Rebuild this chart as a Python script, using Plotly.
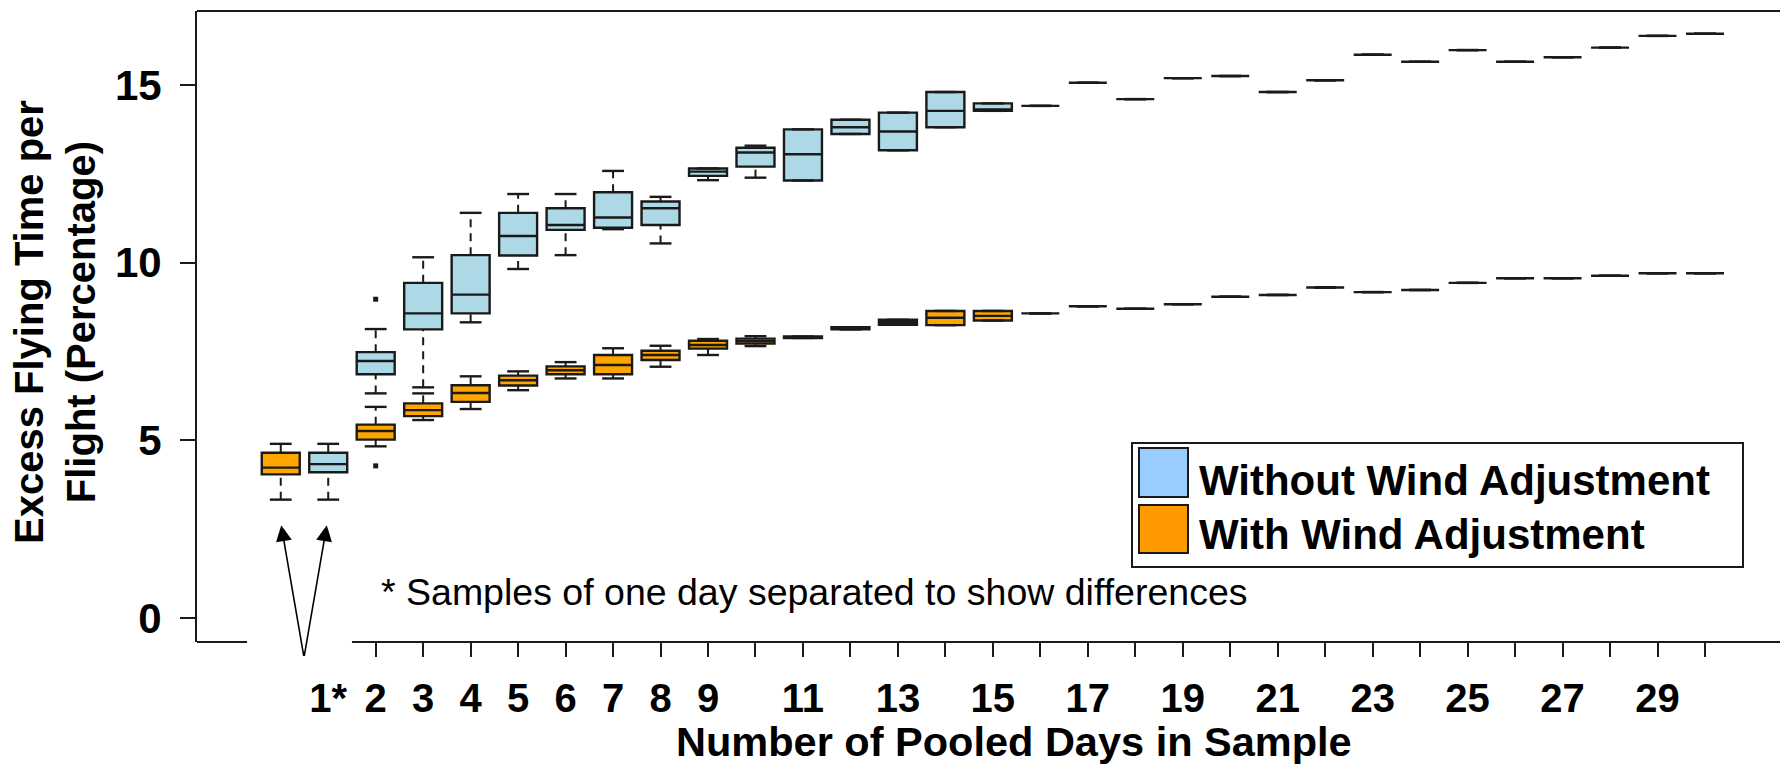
import plotly.graph_objects as go

# ---------------- data ----------------
days = list(range(1, 31))
x_tick_days = list(range(2, 31))
x_label_days = [1, 2, 3, 4, 5, 6, 7, 8, 9, 11, 13, 15, 17, 19, 21, 23, 25, 27, 29]
x_label_text = ["1*", "2", "3", "4", "5", "6", "7", "8", "9", "11", "13", "15",
                "17", "19", "21", "23", "25", "27", "29"]
y_tick_vals = [0, 5, 10, 15]

series_names = ["Without Wind Adjustment", "With Wind Adjustment"]

# Without wind adjustment (light blue)
blue_hi = [4.90, 8.13, 10.15, 11.40, 11.93, 11.93, 12.58, 11.85, 12.65, 13.29,
           13.75, 14.02, 14.22, 14.80, 14.48, 14.41, 15.06, 14.60, 15.19, 15.25,
           14.80, 15.13, 15.85, 15.65, 15.98, 15.65, 15.78, 16.05, 16.38, 16.44]
blue_q3 = [4.65, 7.48, 9.43, 10.21, 11.40, 11.53, 11.98, 11.72, 12.65, 13.23,
           13.75, 14.02, 14.22, 14.80, 14.48, 14.41, 15.06, 14.60, 15.19, 15.25,
           14.80, 15.13, 15.85, 15.65, 15.98, 15.65, 15.78, 16.05, 16.38, 16.44]
blue_med = [4.33, 7.23, 8.57, 9.10, 10.75, 11.06, 11.27, 11.53, 12.56, 13.10,
            13.05, 13.81, 13.69, 14.27, 14.31, 14.41, 15.06, 14.60, 15.19, 15.25,
            14.80, 15.13, 15.85, 15.65, 15.98, 15.65, 15.78, 16.05, 16.38, 16.44]
blue_q1 = [4.10, 6.86, 8.12, 8.57, 10.20, 10.92, 10.98, 11.06, 12.44, 12.70,
           12.31, 13.62, 13.16, 13.81, 14.27, 14.41, 15.06, 14.60, 15.19, 15.25,
           14.80, 15.13, 15.85, 15.65, 15.98, 15.65, 15.78, 16.05, 16.38, 16.44]
blue_lo = [3.33, 6.32, 6.49, 8.32, 9.82, 10.21, 10.94, 10.54, 12.32, 12.39,
           12.31, 13.62, 13.16, 13.81, 14.27, 14.41, 15.06, 14.60, 15.19, 15.25,
           14.80, 15.13, 15.85, 15.65, 15.98, 15.65, 15.78, 16.05, 16.38, 16.44]
blue_out_day = [2]
blue_out_val = [8.97]

# With wind adjustment (orange)
orange_hi = [4.90, 5.94, 6.32, 6.80, 6.94, 7.20, 7.59, 7.66, 7.85, 7.93,
             7.92, 8.18, 8.39, 8.64, 8.64, 8.57, 8.77, 8.70, 8.83, 9.04,
             9.09, 9.30, 9.17, 9.23, 9.43, 9.56, 9.56, 9.63, 9.70, 9.70]
orange_q3 = [4.65, 5.44, 6.04, 6.55, 6.82, 7.08, 7.40, 7.52, 7.80, 7.86,
             7.92, 8.18, 8.39, 8.64, 8.64, 8.57, 8.77, 8.70, 8.83, 9.04,
             9.09, 9.30, 9.17, 9.23, 9.43, 9.56, 9.56, 9.63, 9.70, 9.70]
orange_med = [4.23, 5.26, 5.85, 6.33, 6.69, 6.97, 7.12, 7.40, 7.68, 7.79,
              7.90, 8.15, 8.32, 8.45, 8.50, 8.57, 8.77, 8.70, 8.83, 9.04,
              9.09, 9.30, 9.17, 9.23, 9.43, 9.56, 9.56, 9.63, 9.70, 9.70]
orange_q1 = [4.04, 5.02, 5.68, 6.08, 6.54, 6.86, 6.86, 7.26, 7.58, 7.72,
             7.88, 8.12, 8.25, 8.24, 8.37, 8.57, 8.77, 8.70, 8.83, 9.04,
             9.09, 9.30, 9.17, 9.23, 9.43, 9.56, 9.56, 9.63, 9.70, 9.70]
orange_lo = [3.33, 4.83, 5.57, 5.88, 6.41, 6.74, 6.74, 7.07, 7.40, 7.65,
             7.88, 8.12, 8.25, 8.24, 8.37, 8.57, 8.77, 8.70, 8.83, 9.04,
             9.09, 9.30, 9.17, 9.23, 9.43, 9.56, 9.56, 9.63, 9.70, 9.70]
orange_out_day = [2]
orange_out_val = [4.28]

# ---------------- styling ----------------
FONT = "Liberation Sans, Arial, sans-serif"
INK = "#1a1a1a"
BLUE_FILL = "#ADD8E6"
ORANGE_FILL = "#FFA500"
BLUE_KEY = "#99CCFF"
ORANGE_KEY = "#FF9900"
BOX_W = 0.8
CAP_HALF = 0.23
LW = 2.4

W, H = 1780, 767
PL, PR, PT, PB = 197, 1780, 11, 642
X_RANGE = [-1.764, 31.58]
Y_RANGE = [-0.676, 17.08]


def px_x(px):
    return (px - PL) / (PR - PL)


def px_y(py):
    return (PB - py) / (PB - PT)


# the one-day samples are drawn side by side: the "with wind" box is moved one slot left
blue_pos = list(days)
orange_pos = [d - 1 if d == 1 else d for d in days]


def whisker_xy(pos, lo, q1, q3, hi):
    xs, ys = [], []
    for p, a, b, c, d in zip(pos, lo, q1, q3, hi):
        if d > c:
            xs += [p, p, None]
            ys += [c, d, None]
        if a < b:
            xs += [p, p, None]
            ys += [a, b, None]
    return xs, ys


def cap_xy(pos, lo, hi):
    xs, ys = [], []
    for p, a, d in zip(pos, lo, hi):
        xs += [p - CAP_HALF, p + CAP_HALF, None, p - CAP_HALF, p + CAP_HALF, None]
        ys += [d, d, None, a, a, None]
    return xs, ys


fig = go.Figure()

for name, pos, lo, q1, med, q3, hi, fill, od, ov in [
    (series_names[0], blue_pos, blue_lo, blue_q1, blue_med, blue_q3, blue_hi,
     BLUE_FILL, blue_out_day, blue_out_val),
    (series_names[1], orange_pos, orange_lo, orange_q1, orange_med, orange_q3, orange_hi,
     ORANGE_FILL, orange_out_day, orange_out_val),
]:
    fig.add_trace(go.Box(
        name=name, x=pos, q1=q1, median=med, q3=q3,
        lowerfence=q1, upperfence=q3,
        width=BOX_W, whiskerwidth=0, boxpoints=False,
        fillcolor=fill, line=dict(color=INK, width=LW),
        showlegend=False, hoverinfo="skip",
    ))
    wx, wy = whisker_xy(pos, lo, q1, q3, hi)
    fig.add_trace(go.Scatter(
        x=wx, y=wy, mode="lines",
        line=dict(color=INK, width=2, dash="8px,6px"),
        showlegend=False, hoverinfo="skip",
    ))
    cx, cy = cap_xy(pos, lo, hi)
    fig.add_trace(go.Scatter(
        x=cx, y=cy, mode="lines",
        line=dict(color=INK, width=LW),
        showlegend=False, hoverinfo="skip",
    ))
    fig.add_trace(go.Scatter(
        x=od, y=ov, mode="markers",
        marker=dict(color=INK, size=5, symbol="square"),
        showlegend=False, hoverinfo="skip",
    ))

# carrier for the label axis
fig.add_trace(go.Scatter(x=[], y=[], xaxis="x2", showlegend=False, hoverinfo="skip"))

shapes = [
    # top frame
    dict(type="line", xref="paper", yref="paper", x0=0, x1=1, y0=1, y1=1,
         line=dict(color=INK, width=2)),
    # bottom frame, with a gap where the arrows pass
    dict(type="line", xref="x", yref="paper", x0=X_RANGE[0], x1=-0.71, y0=0, y1=0,
         line=dict(color=INK, width=2)),
    dict(type="line", xref="x", yref="paper", x0=1.5, x1=X_RANGE[1], y0=0, y1=0,
         line=dict(color=INK, width=2)),
    # legend frame
    dict(type="rect", xref="paper", yref="paper",
         x0=px_x(1132), x1=px_x(1743), y0=px_y(567), y1=px_y(443),
         line=dict(color=INK, width=2), fillcolor="white", layer="above"),
    dict(type="rect", xref="paper", yref="paper",
         x0=px_x(1139), x1=px_x(1188), y0=px_y(497), y1=px_y(448),
         line=dict(color=INK, width=2), fillcolor=BLUE_KEY, layer="above"),
    dict(type="rect", xref="paper", yref="paper",
         x0=px_x(1139), x1=px_x(1188), y0=px_y(553), y1=px_y(505),
         line=dict(color=INK, width=2), fillcolor=ORANGE_KEY, layer="above"),
]

annotations = [
    dict(text=series_names[0], xref="paper", yref="paper", x=px_x(1197), y=px_y(480),
         xanchor="left", yanchor="middle", showarrow=False,
         font=dict(family=FONT, size=42, color="black", weight="bold")),
    dict(text=series_names[1], xref="paper", yref="paper", x=px_x(1197), y=px_y(534),
         xanchor="left", yanchor="middle", showarrow=False,
         font=dict(family=FONT, size=42, color="black", weight="bold")),
    dict(text="* Samples of one day separated to show differences",
         xref="paper", yref="paper", x=px_x(379), y=px_y(592),
         xanchor="left", yanchor="middle", showarrow=False,
         font=dict(family=FONT, size=37.5, color="black")),
    dict(text="Excess Flying Time per<br>Flight (Percentage)",
         xref="paper", yref="paper", x=px_x(55), y=px_y(322),
         xanchor="center", yanchor="middle", textangle=-90, showarrow=False,
         font=dict(family=FONT, size=40, color="black", weight="bold")),
    dict(text="Number of Pooled Days in Sample",
         xref="paper", yref="paper", x=px_x(1014), y=px_y(741),
         xanchor="center", yanchor="middle", showarrow=False,
         font=dict(family=FONT, size=41.5, color="black", weight="bold")),
]
# arrows pointing at the two one-day samples
for head_x in [orange_pos[0] + 0.01, blue_pos[0] - 0.03]:
    annotations.append(dict(
        text="", x=head_x, y=2.61, xref="x", yref="y",
        ax=0.49, ay=-1.11, axref="x", ayref="y",
        showarrow=True, arrowhead=2, arrowsize=2.0, arrowwidth=1.6,
        arrowcolor="black",
    ))

fig.update_layout(
    width=W, height=H,
    margin=dict(l=PL, r=W - PR, t=PT, b=H - PB, autoexpand=False),
    paper_bgcolor="white", plot_bgcolor="white",
    showlegend=False, boxmode="overlay",
    font=dict(family=FONT, color="black"),
    xaxis=dict(
        range=X_RANGE, showgrid=False, zeroline=False, showline=False,
        automargin=False,
        tickvals=x_tick_days, showticklabels=False,
        ticks="outside", ticklen=14, tickwidth=2, tickcolor=INK,
    ),
    xaxis2=dict(
        range=X_RANGE, overlaying="x", anchor="y", side="bottom",
        automargin=False,
        showgrid=False, zeroline=False, showline=False, ticks="",
        tickvals=x_label_days, ticktext=x_label_text,
        tickfont=dict(family=FONT, size=40, color="black", weight="bold"),
        ticklabelstandoff=29,
    ),
    yaxis=dict(
        range=Y_RANGE, showgrid=False, zeroline=False, automargin=False,
        showline=True, linewidth=2, linecolor=INK,
        tickvals=y_tick_vals, ticks="outside", ticklen=15, tickwidth=2, tickcolor=INK,
        tickfont=dict(family=FONT, size=42, color="black", weight="bold"),
        ticklabelstandoff=10,
    ),
    shapes=shapes,
    annotations=annotations,
)

fig.write_html(
    "out.html",
    config={"displayModeBar": False},
    post_script="document.body.style.margin='0';document.body.style.overflow='hidden';",
)
